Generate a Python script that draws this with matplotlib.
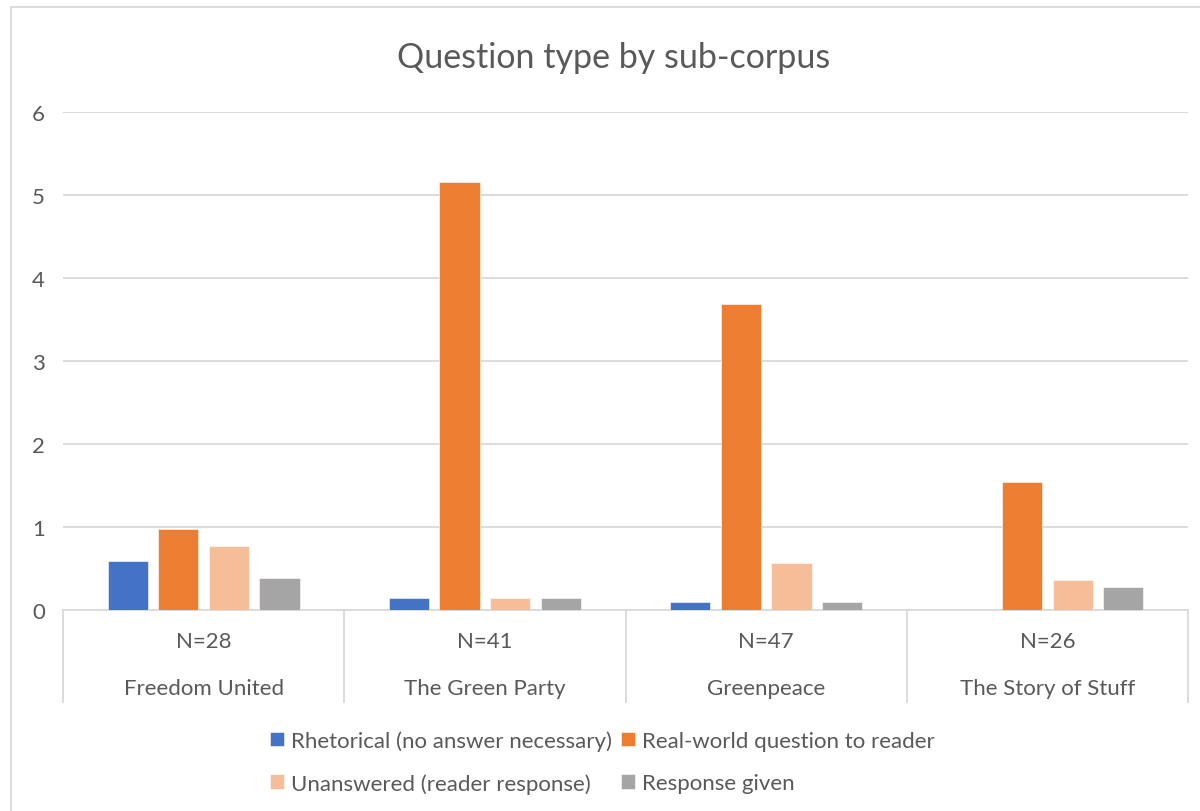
import matplotlib.pyplot as plt
import matplotlib.patches as mpatches
import numpy as np

plt.rcParams['font.family'] = ['Lato', 'DejaVu Sans']

# Datos
grupos = ["Freedom United", "The Green Party", "Greenpeace", "The Story of Stuff"]
tamanos = ["N=28", "N=41", "N=47", "N=26"]
series = ["Rhetorical (no answer necessary)", "Real-world question to reader",
          "Unanswered (reader response)", "Response given"]
retorica = [0.59, 0.15, 0.10, 0.0]
mundo_real = [0.98, 5.16, 3.69, 1.54]
sin_respuesta = [0.77, 0.15, 0.57, 0.36]
respuesta = [0.39, 0.15, 0.10, 0.28]
valores = [retorica, mundo_real, sin_respuesta, respuesta]
colores = ["#4472C4", "#ED7D31", "#F5BE98", "#A5A5A5"]

gris_texto = "#595959"
gris_linea = "#D9D9D9"

fig = plt.figure(figsize=(12, 8.12), dpi=100)
ax = fig.add_axes([0.0525, 0.2475, 0.9375, 0.6133])

x = np.arange(len(grupos))
ancho = 0.143
paso = 0.18
barras = []
for i, (vals, col) in enumerate(zip(valores, colores)):
    b = ax.bar(x + (i - 1.5) * paso, vals, ancho, color=col, zorder=3,
               edgecolor="white", linewidth=0.4, label=series[i])
    barras.append(b)

ax.set_xlim(-0.5, len(grupos) - 0.5)
ax.set_ylim(0, 6)
ax.set_yticks(range(7))
ax.yaxis.grid(True, color=gris_linea, linewidth=1.3, zorder=0)
ax.set_xticks([])
ax.tick_params(axis="y", length=0, pad=13, labelsize=16, labelcolor=gris_texto)
for s in ["top", "right", "left"]:
    ax.spines[s].set_visible(False)
ax.spines["bottom"].set_color(gris_linea)
ax.spines["bottom"].set_linewidth(1.3)

# Eje de categorias de dos niveles
trans = ax.get_xaxis_transform()
for b in np.arange(-0.5, len(grupos)):
    ax.plot([b, b], [0, -0.185], transform=trans, color=gris_linea,
            linewidth=1.3, clip_on=False)
for xi, n, g in zip(x, tamanos, grupos):
    ax.text(xi, -0.062, n, transform=trans, ha="center", va="center",
            fontsize=16, color=gris_texto)
    ax.text(xi, -0.156, g, transform=trans, ha="center", va="center",
            fontsize=16, color=gris_texto)

fig.text(0.511, 0.9286, "Question type by sub-corpus", ha="center", va="center",
         fontsize=24.5, color=gris_texto)

orden = [barras[0], barras[2], barras[1], barras[3]]
etiquetas = [series[0], series[2], series[1], series[3]]
fig.legend(orden, etiquetas, ncol=2, loc="center", bbox_to_anchor=(0.502, 0.0605),
           frameon=False, fontsize=16, labelcolor=gris_texto, handlelength=0.65,
           handleheight=0.65, handletextpad=0.3, columnspacing=0.4, labelspacing=1.0)

# Borde del area del grafico
fig.patches.append(mpatches.Rectangle((0.009, -0.01), 1.01, 1.0,
                                      transform=fig.transFigure, fill=False,
                                      edgecolor=gris_linea, linewidth=1.3))

fig.savefig("out.png", dpi=100)
